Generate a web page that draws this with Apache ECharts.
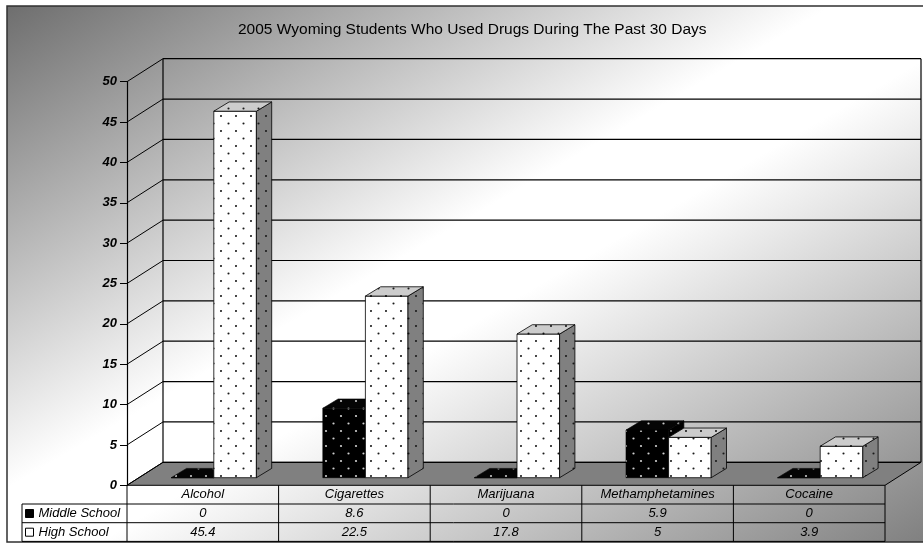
<!DOCTYPE html>
<html>
<head>
<meta charset="utf-8">
<script src="https://cdn.jsdelivr.net/npm/echarts@6/dist/echarts.min.js"></script>
<style>
  html, body { margin: 0; padding: 0; background: #fff; }
  #chart { width: 923px; height: 544px; }
</style>
</head>
<body>
<div id="chart"></div>
<script>
// ---- data ----
const categories = ['Alcohol', 'Cigarettes', 'Marijuana', 'Methamphetamines', 'Cocaine'];
const middleSchool = [0, 8.6, 0, 5.9, 0];
const highSchool = [45.4, 22.5, 17.8, 5, 3.9];
const yTicks = [0, 5, 10, 15, 20, 25, 30, 35, 40, 45, 50];
const seriesNames = ['Middle School', 'High School'];
const titleText = '2005 Wyoming Students Who Used Drugs During The Past 30 Days';

// ---- look ----
const FONT = '"Liberation Sans", Arial, sans-serif';
const WALL_DEPTH = [36, -23];    // offset from front plane to back wall (px)
const BAR_FRONT = [12, -7.6];    // bars stand a little behind the front plane
const BAR_DEPTH = [15.3, -9.3];  // thickness of each bar
const BAR_W = 0.281;             // bar width as a share of the category band
const ROW_H = 18.7;              // data-table row height
const LEGEND_X = 22;             // left edge of the data-table key column
const TABLE_FONT = 'italic 13px ' + FONT;

// small staggered dot tile used as a fill pattern
function dotTile(bg, dot, r) {
  const c = document.createElement('canvas');
  c.width = 15; c.height = 15;
  const g = c.getContext('2d');
  g.fillStyle = bg;
  g.fillRect(0, 0, 15, 15);
  g.fillStyle = dot;
  [[3.5, 3.5], [11, 11]].forEach(function (p) {
    g.beginPath();
    g.arc(p[0], p[1], r, 0, Math.PI * 2);
    g.fill();
  });
  return { image: c, repeat: 'repeat' };
}

const FACES = [
  { front: dotTile('#000000', '#d0d0d0', 1.1), top: dotTile('#050505', '#c8c8c8', 1.1), side: dotTile('#000000', '#8a8a8a', 1.1), stroke: '#000', lw: 0.6 },
  { front: dotTile('#ffffff', '#1a1a1a', 1.05), top: dotTile('#cccccc', '#1a1a1a', 1.05), side: dotTile('#808080', '#1a1a1a', 1.05), stroke: '#000', lw: 0.8 }
];

function barRenderer(slot) {
  const faces = FACES[slot];
  return function (params, api) {
    const c0 = api.coord([api.value(0), 0]);
    const c1 = api.coord([api.value(0), api.value(1)]);
    const w = api.size([1, 0])[0] * BAR_W;
    const xl = c0[0] + BAR_FRONT[0] - 1 + (slot === 0 ? -w : 0);
    const xr = xl + w;
    const yb = c0[1] + BAR_FRONT[1];
    const yt = c1[1] + BAR_FRONT[1];
    const dx = BAR_DEPTH[0], dy = BAR_DEPTH[1];
    function face(pts, fill) {
      return { type: 'polygon', shape: { points: pts }, style: { fill: fill, stroke: faces.stroke, lineWidth: faces.lw } };
    }
    return {
      type: 'group',
      children: [
        face([[xl, yb], [xr, yb], [xr, yt], [xl, yt]], faces.front),
        face([[xr, yb], [xr + dx, yb + dy], [xr + dx, yt + dy], [xr, yt]], faces.side),
        face([[xl, yt], [xr, yt], [xr + dx, yt + dy], [xl + dx, yt + dy]], faces.top)
      ]
    };
  };
}

function line(x1, y1, x2, y2, w) {
  return { type: 'line', shape: { x1: x1, y1: y1, x2: x2, y2: y2 }, style: { stroke: '#000', lineWidth: w || 1 } };
}

// floor, side-wall lines and back-wall gridlines
function wallRenderer(params, api) {
  const cs = params.coordSys;
  const y = api.coord([0, api.value(1)])[1];
  const dx = WALL_DEPTH[0], dy = WALL_DEPTH[1];
  const xl = cs.x, xr = cs.x + cs.width;
  const children = [];
  if (api.value(1) === 0) {
    children.push({
      type: 'polygon',
      shape: { points: [[xl, y], [xr, y], [xr + dx, y + dy], [xl + dx, y + dy]] },
      style: { fill: '#808080', stroke: '#000', lineWidth: 1 }
    });
    children.push(line(xl + dx, cs.y + dy, xl + dx, y + dy, 1.2));
    children.push(line(xr + dx, cs.y + dy, xr + dx, y + dy, 1.2));
  }
  children.push(line(xl, y, xl + dx, y + dy, 1));
  children.push(line(xl + dx, y + dy, xr + dx, y + dy, 1.2));
  return { type: 'group', children: children };
}

// data table below the plot
function tableRenderer(params, api) {
  const cs = params.coordSys;
  const c = api.coord([api.value(0), 0]);
  const band = api.size([1, 0])[0];
  const top = cs.y + cs.height;
  const r1 = top + ROW_H, r2 = r1 + ROW_H, r3 = r2 + ROW_H;
  const xr = cs.x + cs.width;
  const children = [
    line(c[0] + band / 2, top, c[0] + band / 2, r3, 1),
    { type: 'text', style: { text: String(api.value(1)), x: c[0], y: (r1 + r2) / 2, align: 'center', verticalAlign: 'middle', font: TABLE_FONT, fill: '#000' } },
    { type: 'text', style: { text: String(api.value(2)), x: c[0], y: (r2 + r3) / 2, align: 'center', verticalAlign: 'middle', font: TABLE_FONT, fill: '#000' } }
  ];
  if (params.dataIndex === 0) {
    children.push(line(LEGEND_X, r1, xr, r1, 1));
    children.push(line(LEGEND_X, r2, xr, r2, 1));
    children.push(line(LEGEND_X, r3, xr, r3, 1));
    children.push(line(cs.x, top, cs.x, r3, 1));
    children.push(line(LEGEND_X, r1, LEGEND_X, r3, 1));
  }
  return { type: 'group', children: children };
}

const chart = echarts.init(document.getElementById('chart'), null, { renderer: 'canvas' });

chart.setOption({
  animation: false,
  backgroundColor: '#ffffff',
  graphic: [{
    type: 'rect',
    z: -10,
    silent: true,
    shape: { x: 7, y: 6, width: 930, height: 536 },
    style: {
      fill: {
        type: 'linear', x: 7, y: 6, x2: 474, y2: 805, global: true,
        colorStops: [
          { offset: 0, color: '#6e6e6e' },
          { offset: 0.45, color: '#ffffff' },
          { offset: 0.55, color: '#ffffff' },
          { offset: 1, color: '#808080' }
        ]
      },
      stroke: '#303030',
      lineWidth: 1.5
    }
  }],
  title: {
    text: titleText,
    left: 233,
    top: 17,
    textStyle: { fontFamily: FONT, fontSize: 15.5, fontWeight: 'normal', color: '#000' }
  },
  legend: {
    orient: 'vertical',
    left: 25,
    top: 506.5,
    padding: 0,
    itemGap: 4.7,
    itemWidth: 8,
    itemHeight: 8,
    icon: 'rect',
    selectedMode: false,
    textStyle: { fontFamily: FONT, fontSize: 13, fontStyle: 'italic', color: '#000', lineHeight: 14 },
    data: [
      { name: seriesNames[0], itemStyle: { color: '#000', borderColor: '#000', borderWidth: 1 } },
      { name: seriesNames[1], itemStyle: { color: '#fff', borderColor: '#000', borderWidth: 1 } }
    ]
  },
  grid: { left: 127, right: 38, top: 81.7, bottom: 58.7, containLabel: false },
  xAxis: {
    type: 'category',
    data: categories,
    axisLine: { show: false },
    axisTick: { show: false },
    splitLine: { show: false },
    axisLabel: { margin: 3, fontFamily: FONT, fontSize: 13, fontStyle: 'italic', color: '#000', interval: 0 }
  },
  yAxis: {
    type: 'value',
    min: 0,
    max: 50,
    interval: 5,
    axisLine: { show: true, lineStyle: { color: '#000', width: 1.2 } },
    axisTick: { show: true, length: 7, lineStyle: { color: '#000', width: 1 } },
    splitLine: { show: false },
    axisLabel: { margin: 10, fontFamily: FONT, fontSize: 13, fontStyle: 'italic', fontWeight: 'bold', color: '#000' }
  },
  series: [
    {
      type: 'custom',
      name: 'walls',
      z: 1,
      silent: true,
      clip: false,
      renderItem: wallRenderer,
      encode: { x: 0, y: 1 },
      data: yTicks.map(function (t) { return [0, t]; })
    },
    {
      type: 'custom',
      name: seriesNames[0],
      z: 2,
      clip: false,
      itemStyle: { color: '#000' },
      renderItem: barRenderer(0),
      encode: { x: 0, y: 1 },
      data: middleSchool.map(function (v, i) { return [i, v]; })
    },
    {
      type: 'custom',
      name: seriesNames[1],
      z: 3,
      clip: false,
      itemStyle: { color: '#fff' },
      renderItem: barRenderer(1),
      encode: { x: 0, y: 1 },
      data: highSchool.map(function (v, i) { return [i, v]; })
    },
    {
      type: 'custom',
      name: 'table',
      z: 4,
      silent: true,
      clip: false,
      renderItem: tableRenderer,
      encode: { x: 0, y: 1 },
      data: categories.map(function (c, i) { return [i, middleSchool[i], highSchool[i]]; })
    }
  ]
});
</script>
</body>
</html>
